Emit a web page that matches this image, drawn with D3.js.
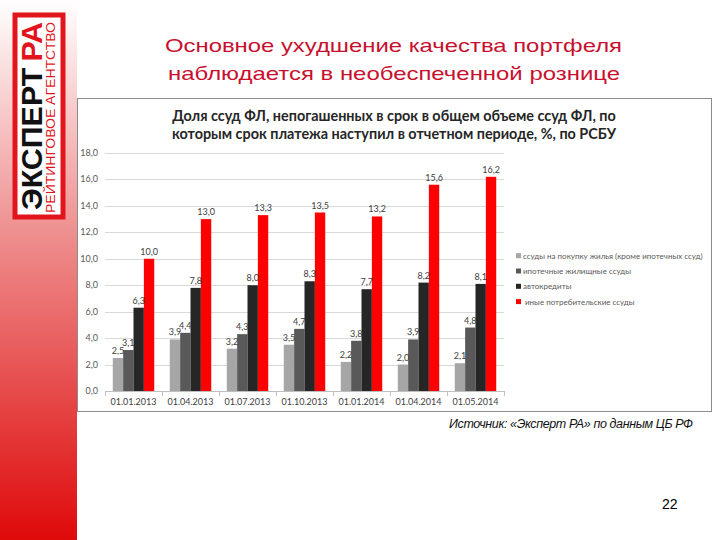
<!DOCTYPE html>
<html>
<head>
<meta charset="utf-8">
<script src="https://cdn.jsdelivr.net/npm/d3@7"></script>
<style>
  body { margin: 0; background: #fff; }
  svg { display: block; }
</style>
</head>
<body>
<div id="slide"></div>
<script>
// ---------------------------------------------
// data
// ---------------------------------------------
const dates = ["01.01.2013", "01.04.2013", "01.07.2013", "01.10.2013", "01.01.2014", "01.04.2014", "01.05.2014"];
const seriesNames = [
  "ссуды на покупку жилья (кроме ипотечных ссуд)",
  "ипотечные жилищные ссуды",
  "автокредиты",
  "иные потребительские ссуды"
];
const housing   = [2.5, 3.9, 3.2, 3.5, 2.2, 2.0, 2.1];
const mortgage  = [3.1, 4.4, 4.3, 4.7, 3.8, 3.9, 4.8];
const autoLoans = [6.3, 7.8, 8.0, 8.3, 7.7, 8.2, 8.1];
const consumer  = [10.0, 13.0, 13.3, 13.5, 13.2, 15.6, 16.2];
const yTicks = [0, 2, 4, 6, 8, 10, 12, 14, 16, 18];

const seriesValues = [housing, mortgage, autoLoans, consumer];
const colors = ["#a6a6a6", "#595959", "#262626", "#ff0000"];

const W = 720, H = 540;
const fmt = v => d3.format(".1f")(v).replace(".", ",");

let svg = d3.select("#slide").append("svg")
    .attr("width", W)
    .attr("height", H);

// ---------------------------------------------
// left red band with gradient + logo
// ---------------------------------------------
let defs = svg.append("defs");
let grad = defs.append("linearGradient")
    .attr("id", "band")
    .attr("x1", 0).attr("y1", 0).attr("x2", 0).attr("y2", 1);
grad.append("stop").attr("offset", "0%").attr("stop-color", "#ffffff");
grad.append("stop").attr("offset", "45%").attr("stop-color", "#ee8a8a");
grad.append("stop").attr("offset", "100%").attr("stop-color", "#df0a0a");

svg.append("rect")
    .attr("x", 0).attr("y", 0)
    .attr("width", 77).attr("height", H)
    .attr("fill", "url(#band)");

let logo = svg.append("g");
logo.append("rect")
    .attr("x", 15).attr("y", 15)
    .attr("width", 48).attr("height", 202)
    .attr("fill", "#ffffff")
    .attr("stroke", "#e2141c")
    .attr("stroke-width", 5);

// big vertical word, reads bottom to top
let big = logo.append("text")
    .attr("transform", "translate(42,210) rotate(-90)")
    .attr("font-family", "Liberation Sans, Arial, sans-serif")
    .attr("font-weight", "bold")
    .attr("font-size", 30)
    .attr("textLength", 188)
    .attr("lengthAdjust", "spacingAndGlyphs");
big.append("tspan").attr("fill", "#111").text("ЭКСПЕРТ");
big.append("tspan").attr("fill", "#e2141c").attr("dx", 6).text("РА");

logo.append("text")
    .attr("transform", "translate(55,213) rotate(-90)")
    .attr("font-family", "Liberation Sans, Arial, sans-serif")
    .attr("font-size", 12)
    .attr("fill", "#e2141c")
    .attr("textLength", 191)
    .attr("lengthAdjust", "spacingAndGlyphs")
    .text("РЕЙТИНГОВОЕ АГЕНТСТВО");

// ---------------------------------------------
// slide title (glyphs are a bit wide on the slide)
// ---------------------------------------------
let title = svg.append("g")
    .attr("font-family", "Liberation Sans, Arial, sans-serif")
    .attr("font-size", 19)
    .attr("fill", "#c8102e");
title.append("text")
    .attr("x", 165).attr("y", 52)
    .attr("textLength", 457)
    .attr("lengthAdjust", "spacingAndGlyphs")
    .text("Основное ухудшение качества портфеля");
title.append("text")
    .attr("x", 168).attr("y", 80)
    .attr("textLength", 452)
    .attr("lengthAdjust", "spacingAndGlyphs")
    .text("наблюдается в необеспеченной рознице");

// ---------------------------------------------
// chart frame
// ---------------------------------------------
svg.append("rect")
    .attr("x", 77.5).attr("y", 98.5)
    .attr("width", 634).attr("height", 313)
    .attr("fill", "#fff")
    .attr("stroke", "#8c8c8c")
    .attr("stroke-width", 1);

let chartTitle = svg.append("text")
    .attr("font-family", "Lato, 'Open Sans', sans-serif")
    .attr("font-weight", "bold")
    .attr("font-size", 14.4)
    .attr("fill", "#262626")
    .attr("text-anchor", "middle");
chartTitle.append("tspan").attr("x", 394).attr("y", 121).text("Доля ссуд ФЛ, непогашенных в срок в общем объеме ссуд ФЛ, по");
chartTitle.append("tspan").attr("x", 394).attr("y", 139).text("которым срок платежа наступил в отчетном периоде, %, по РСБУ");

// ---------------------------------------------
// scales
// ---------------------------------------------
let x0 = d3.scaleBand()
    .domain(dates)
    .range([105, 504]);

let x1 = d3.scaleBand()
    .domain(d3.range(seriesValues.length))
    .range([0, x0.bandwidth()])
    .paddingInner(0)
    .paddingOuter(0.75);

let y = d3.scaleLinear()
    .domain([0, 18])
    .range([391, 153]);

let plot = svg.append("g")
    .attr("font-family", "Lato, 'Open Sans', sans-serif");

// gridlines
plot.append("g")
  .selectAll("line")
    .data(yTicks.filter(t => t > 0))
  .enter().append("line")
    .attr("x1", 105).attr("x2", 504)
    .attr("y1", d => Math.round(y(d)) + 0.5)
    .attr("y2", d => Math.round(y(d)) + 0.5)
    .attr("stroke", "#d9d9d9");

// y labels
plot.append("g")
  .selectAll("text")
    .data(yTicks)
  .enter().append("text")
    .attr("x", 98)
    .attr("y", d => y(d) + 3)
    .attr("text-anchor", "end")
    .attr("font-size", 9)
    .attr("fill", "#595959")
    .text(fmt);

// bars
let groups = plot.append("g")
  .selectAll("g")
    .data(dates)
  .enter().append("g")
    .attr("transform", d => "translate(" + x0(d) + ",0)");

groups.selectAll("rect")
    .data((d, i) => seriesValues.map((s, k) => ({k: k, v: s[i]})))
  .enter().append("rect")
    .attr("x", d => x1(d.k))
    .attr("width", x1.bandwidth())
    .attr("y", d => y(d.v))
    .attr("height", d => y(0) - y(d.v))
    .attr("fill", d => colors[d.k]);

// data labels
groups.selectAll("text")
    .data((d, i) => seriesValues.map((s, k) => ({k: k, v: s[i]})))
  .enter().append("text")
    .attr("x", d => x1(d.k) + x1.bandwidth() / 2)
    .attr("y", d => y(d.v) - 4)
    .attr("text-anchor", "middle")
    .attr("font-size", 9)
    .attr("fill", "#404040")
    .text(d => fmt(d.v));

// x axis line and category ticks
plot.append("line")
    .attr("x1", 105).attr("x2", 504)
    .attr("y1", y(0) + 0.5).attr("y2", y(0) + 0.5)
    .attr("stroke", "#bfbfbf");

plot.append("g")
  .selectAll("line")
    .data(dates.map(d => x0(d)).concat([504]))
  .enter().append("line")
    .attr("x1", d => Math.round(d) + 0.5)
    .attr("x2", d => Math.round(d) + 0.5)
    .attr("y1", y(0))
    .attr("y2", y(0) + 5)
    .attr("stroke", "#bfbfbf");

plot.append("g")
  .selectAll("text")
    .data(dates)
  .enter().append("text")
    .attr("x", d => x0(d) + x0.bandwidth() / 2)
    .attr("y", 405)
    .attr("text-anchor", "middle")
    .attr("font-size", 9)
    .attr("fill", "#404040")
    .text(d => d);

// legend
let legend = plot.append("g")
  .selectAll("g")
    .data(seriesNames)
  .enter().append("g")
    .attr("transform", (d, i) => "translate(516," + (255.7 + i * 15.3) + ")");

legend.append("rect")
    .attr("x", 0).attr("y", -2.5)
    .attr("width", 5).attr("height", 5)
    .attr("fill", (d, i) => colors[i]);

legend.append("text")
    .attr("x", (d, i) => i === 3 ? 9 : 7)
    .attr("y", 3)
    .attr("font-size", 8)
    .attr("fill", "#595959")
    .text(d => d);

// ---------------------------------------------
// source + page number
// ---------------------------------------------
svg.append("text")
    .attr("x", 449).attr("y", 428)
    .attr("font-family", "Liberation Sans, Arial, sans-serif")
    .attr("font-style", "italic")
    .attr("font-size", 12.5)
    .attr("fill", "#111")
    .attr("textLength", 244)
    .attr("lengthAdjust", "spacing")
    .text("Источник: «Эксперт РА» по данным ЦБ РФ");

svg.append("text")
    .attr("x", 662).attr("y", 509)
    .attr("font-family", "Liberation Sans, Arial, sans-serif")
    .attr("font-size", 14)
    .attr("fill", "#000")
    .text("22");
</script>
</body>
</html>
